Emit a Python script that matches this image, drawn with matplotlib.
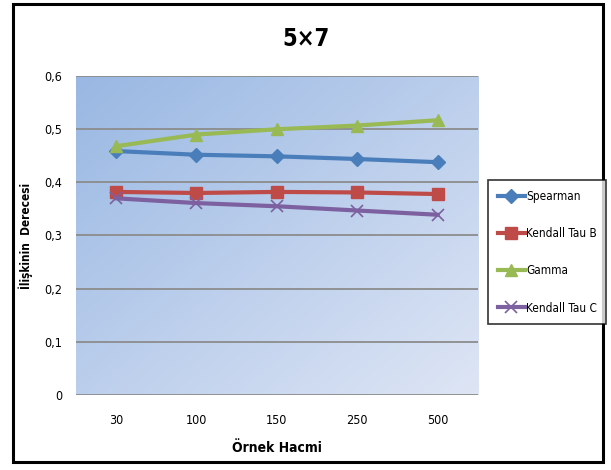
import numpy as np
import matplotlib.pyplot as plt
from matplotlib.patches import Rectangle

plt.rcParams['font.family'] = ['DejaVu Sans']
plt.rcParams['font.stretch'] = 'condensed'

sample_sizes = ["30", "100", "150", "250", "500"]
spearman = [0.459, 0.452, 0.449, 0.444, 0.438]
kendall_b = [0.382, 0.380, 0.382, 0.381, 0.378]
gamma = [0.468, 0.490, 0.500, 0.507, 0.517]
kendall_c = [0.370, 0.361, 0.355, 0.347, 0.339]
y_ticks = [0, 0.1, 0.2, 0.3, 0.4, 0.5, 0.6]

fig = plt.figure(figsize=(6.11, 4.70), dpi=100)

# outer frame around the whole chart
fig.patches.append(Rectangle((0.022, 0.017), 0.965, 0.975, transform=fig.transFigure,
                             fill=False, edgecolor='black', linewidth=2.2))

ax = fig.add_axes([0.124, 0.160, 0.658, 0.678])
x = np.arange(len(sample_sizes))
ax.set_xlim(-0.5, len(sample_sizes) - 0.5)
ax.set_ylim(0, 0.6)

# diagonal blue gradient behind the plot, darker at top-left
gx, gy = np.meshgrid(np.linspace(0, 1, 200), np.linspace(0, 1, 200))
t = (gx + gy) / 2
c0 = np.array([0.60, 0.72, 0.89])
c1 = np.array([0.87, 0.90, 0.96])
grad = c0 + (c1 - c0) * t[..., None]
ax.imshow(grad, extent=[-0.5, len(sample_sizes) - 0.5, 0, 0.6], origin='upper',
          aspect='auto', zorder=0)

for v in y_ticks[1:]:
    ax.axhline(v, color='#8c8c8c', linewidth=1.3, zorder=1)
ax.axhline(0, color='#8c8c8c', linewidth=1.3, zorder=1)

ax.plot(x, spearman, color='#4a7ebb', lw=3, marker='D', ms=7, label='Spearman', zorder=3)
ax.plot(x, kendall_b, color='#be4b48', lw=3, marker='s', ms=8, label='Kendall Tau B', zorder=3)
ax.plot(x, gamma, color='#98b954', lw=3, marker='^', ms=9, label='Gamma', zorder=3)
ax.plot(x, kendall_c, color='#7d60a0', lw=3, marker='x', ms=8, mew=1.2, label='Kendall Tau C', zorder=3)

for s in ax.spines.values():
    s.set_visible(False)
ax.set_yticks(y_ticks)
ax.set_yticklabels([('%g' % v).replace('.', ',') for v in y_ticks], fontsize=9)
ax.set_xticks(x)
ax.set_xticklabels(sample_sizes, fontsize=9)
ax.tick_params(length=0, pad=10)
ax.tick_params(axis='x', pad=14)

ax.set_xlabel("Örnek Hacmi", fontsize=10, fontweight='bold', labelpad=10)
ax.set_ylabel("İlişkinin  Derecesi", fontsize=8.5, fontweight='bold', labelpad=8)
fig.text(0.5, 0.918, "5×7", ha='center', va='center', fontsize=17, fontweight='bold')

leg = fig.legend(loc='upper left', bbox_to_anchor=(0.799, 0.616), fontsize=8.5,
                 frameon=True, fancybox=False, edgecolor='black', handlelength=2.3,
                 labelspacing=2.05, borderpad=0.8, handletextpad=0.1, borderaxespad=0)
leg.get_frame().set_linewidth(1.2)

plt.savefig('out.png', dpi=100)
